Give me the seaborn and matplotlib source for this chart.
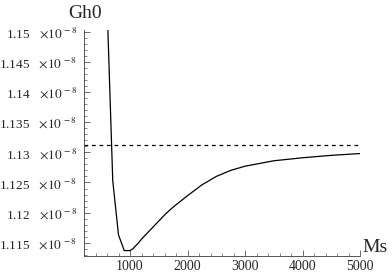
import pandas as pd
import matplotlib.pyplot as plt
import seaborn as sns
from matplotlib.ticker import MultipleLocator

# Values (Gh0 in units of 1e-8)
ms = [600, 700, 800, 900, 1000, 1050, 1100, 1150, 1200, 1300, 1400, 1500,
      1600, 1700, 1800, 2000, 2250, 2500, 2750, 3000, 3500, 4000, 4500, 5000]
gh0 = [1.1548, 1.1253, 1.1163, 1.1137, 1.1137, 1.1140, 1.1145, 1.1150,
       1.1156, 1.1166, 1.1176, 1.1186, 1.1196, 1.1205, 1.1213, 1.1228,
       1.1246, 1.1260, 1.1270, 1.1277, 1.1286, 1.1291, 1.1295, 1.1298]
asymptote = 1.1312
y_ticks = [1.115, 1.12, 1.125, 1.13, 1.135, 1.14, 1.145, 1.15]
x_ticks = [1000, 2000, 3000, 4000, 5000]

sns.set_style('ticks')
plt.rcParams['font.family'] = ['Liberation Serif', 'DejaVu Serif']
plt.rcParams['mathtext.fontset'] = 'stix'

fig = plt.figure(figsize=(3.92, 2.73), dpi=100)
ax = fig.add_axes([84 / 392, 17 / 273, 276 / 392, 226 / 273])

df = pd.DataFrame({'Ms': ms, 'Gh0': gh0})
sns.lineplot(data=df, x='Ms', y='Gh0', ax=ax, color='black', linewidth=0.9)
ax.axhline(asymptote, color='black', linestyle=(0, (3, 3)), linewidth=0.9)

ax.set_xlim(200, 5000)
ax.set_ylim(1.1128, 1.1503)
ax.set_xticks(x_ticks)
ax.set_xticklabels([str(v) for v in x_ticks])
ax.set_yticks(y_ticks)
ax.set_yticklabels([f'{v:g}   $\\times 10^{{\\,-8}}$' for v in y_ticks])
ax.xaxis.set_minor_locator(MultipleLocator(200))
ax.yaxis.set_minor_locator(MultipleLocator(0.001))
ax.tick_params(which='major', direction='in', length=4, width=0.6,
               color='#555555')
ax.tick_params(which='minor', direction='in', length=2, width=0.5,
               color='#555555')
ax.tick_params(axis='x', pad=3, labelsize=10)
ax.tick_params(axis='y', pad=5, labelsize=9.5)
ax.set_xlabel('')
ax.set_ylabel('')

sns.despine(ax=ax)
for side in ['left', 'bottom']:
    ax.spines[side].set_linewidth(0.7)
    ax.spines[side].set_color('#555555')

fig.text(85 / 392, 1 - 13 / 273, 'Gh0', ha='center', va='center', fontsize=14)
fig.text(375 / 392, 1 - 247 / 273, 'Ms', ha='center', va='center', fontsize=14)

fig.savefig('out.png', dpi=100)
